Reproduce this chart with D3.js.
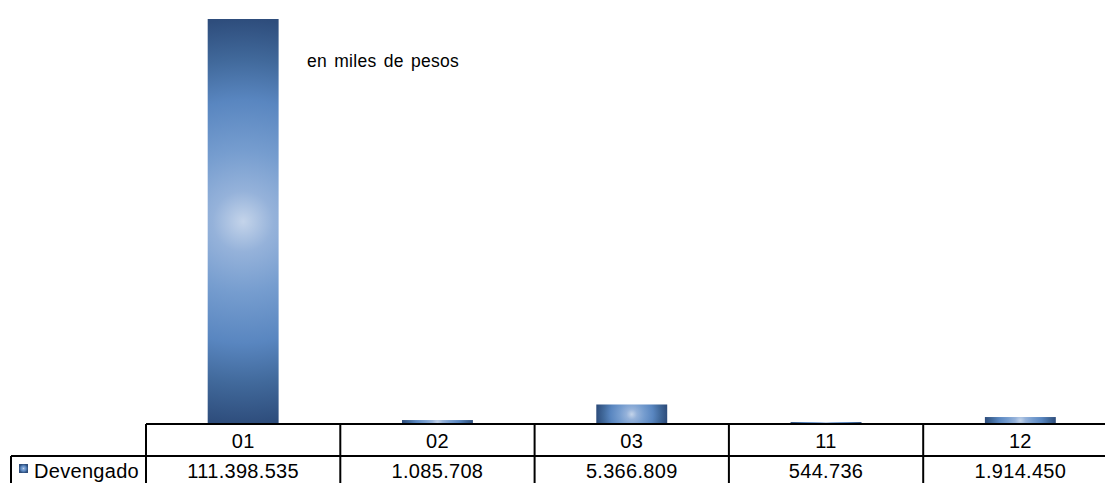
<!DOCTYPE html>
<html><head><meta charset="utf-8">
<script src="https://cdn.jsdelivr.net/npm/d3@7"></script>
<style>body{margin:0;background:#fff;}svg{display:block;font-family:"Liberation Sans",Arial,sans-serif;}</style>
</head><body>
<svg id="c" width="1105" height="483"></svg>
<script>
const categories = ["01","02","03","11","12"];
const seriesName = "Devengado";
const values = [111398535, 1085708, 5366809, 544736, 1914450];
const valueLabels = ["111.398.535","1.085.708","5.366.809","544.736","1.914.450"];
const note = "en miles de pesos";

const svg = d3.select("#c");
const tableTop = 424, rowH = 32, plotTop = 19;
const x = d3.scaleBand().domain(categories).range([146, 1117.5]).padding(0);
const y = d3.scaleLinear().domain([0, d3.max(values)]).range([tableTop, plotTop]);
const barW = x.bandwidth() * 0.365;

const stops = [[0,"#c4d4ea"],[0.15,"#95b2da"],[0.35,"#769dcf"],[0.6,"#5986c0"],[0.8,"#41699b"],[1,"#2e4d7c"]];
const defs = svg.append("defs");
values.forEach((v,i)=>{
  const bx = x(categories[i]) + (x.bandwidth()-barW)/2;
  const by = y(v), bh = y(0)-y(v);
  const g = defs.append("radialGradient").attr("id","g"+i).attr("gradientUnits","userSpaceOnUse")
    .attr("cx", bx+barW/2).attr("cy", by+bh/2).attr("r", Math.max(barW, bh)/2);
  stops.forEach(s=>g.append("stop").attr("offset",s[0]).attr("stop-color",s[1]));
});
const lg = defs.append("radialGradient").attr("id","lg");
stops.forEach(s=>lg.append("stop").attr("offset",s[0]).attr("stop-color",s[1]));

svg.append("g").selectAll("rect").data(values).join("rect")
  .attr("x",(d,i)=>x(categories[i]) + (x.bandwidth()-barW)/2)
  .attr("y",d=>y(d))
  .attr("width",barW)
  .attr("height",d=>y(0)-y(d))
  .attr("fill",(d,i)=>"url(#g"+i+")");

svg.append("text").attr("x",307).attr("y",67).attr("font-size",17.5)
  .attr("letter-spacing",0.3).attr("word-spacing",2).attr("fill","#000").text(note);

// data table
const lines = svg.append("g").attr("stroke","#000").attr("stroke-width",2).attr("fill","none");
lines.append("line").attr("x1",146).attr("x2",1105).attr("y1",tableTop).attr("y2",tableTop);
lines.append("line").attr("x1",11).attr("x2",1105).attr("y1",tableTop+rowH).attr("y2",tableTop+rowH);
lines.append("line").attr("x1",11).attr("x2",11).attr("y1",tableTop+rowH).attr("y2",483);
categories.forEach(c=>{
  lines.append("line").attr("x1",x(c)).attr("x2",x(c)).attr("y1",tableTop).attr("y2",483);
});
const tf = 20, ls = 0.3;
svg.append("g").selectAll("text").data(categories).join("text")
  .attr("x",d=>x(d)+x.bandwidth()/2).attr("y",448).attr("text-anchor","middle")
  .attr("font-size",tf).attr("letter-spacing",ls).text(d=>d);
svg.append("g").selectAll("text").data(valueLabels).join("text")
  .attr("x",(d,i)=>x(categories[i])+x.bandwidth()/2).attr("y",478).attr("text-anchor","middle")
  .attr("font-size",tf).attr("letter-spacing",ls).text(d=>d);
svg.append("rect").attr("x",19).attr("y",464).attr("width",9).attr("height",9).attr("fill","url(#lg)");
svg.append("text").attr("x",34).attr("y",478).attr("font-size",tf).attr("letter-spacing",ls).text(seriesName);
</script>
</body></html>
